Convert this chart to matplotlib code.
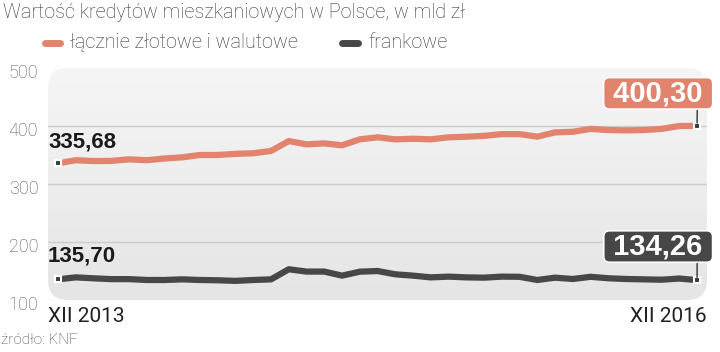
import numpy as np
import matplotlib.pyplot as plt
from matplotlib.patches import FancyBboxPatch
from matplotlib.lines import Line2D
from matplotlib.colors import LinearSegmentedColormap
from matplotlib.transforms import ScaledTranslation

# monthly values, XII 2013 .. XII 2016
total = [335.68, 341, 339.5, 339.8, 342.5, 341, 344, 346, 350, 350, 352, 353, 357,
         374, 368.4, 370, 366.7, 377, 380.5, 377, 378, 377, 380.5, 381.5,
         383, 386, 386, 381.6, 389, 390, 395, 393, 392.5, 393, 395, 400, 400.30]
chf = [135.70, 139, 137.4, 136, 136, 134.5, 134.5, 135.6, 134.5, 134, 133, 134.5, 135.6,
       153, 149, 149, 142, 148.8, 150, 144.3, 142, 139, 140.3, 139,
       138.5, 140.3, 140, 134.5, 138.5, 136.2, 140, 137.5, 136.2, 135.6, 135, 137, 134.26]
series_names = ['łącznie złotowe i walutowe', 'frankowe']
x_labels = ['XII 2013', 'XII 2016']
y_ticks = [100, 200, 300, 400, 500]

ORANGE = '#e2836d'
DARK = '#474747'
TXT = ['Roboto', 'DejaVu Sans']
NUM = ['Liberation Sans', 'DejaVu Sans']


def fmt(v):
    return f'{v:.2f}'.replace('.', ',')


fig = plt.figure(figsize=(7.2, 3.52), dpi=100)
ax = fig.add_axes([48 / 720, 1 - 300 / 352, 659 / 720, 232 / 352])
ax.set_xlim(-0.563, 36.56)
ax.set_ylim(100, 500)
for s in ax.spines.values():
    s.set_visible(False)

# rounded background with a soft vertical gradient
bg = FancyBboxPatch((0, 0), 1, 1, boxstyle='round,pad=0,rounding_size=0.03',
                    transform=ax.transAxes, facecolor='none', edgecolor='none',
                    mutation_aspect=659 / 232)
ax.add_patch(bg)
grad = np.linspace(0, 1, 100).reshape(-1, 1)
cmap = LinearSegmentedColormap.from_list('g', ['#f5f5f5', '#e5e5e5'])
im = ax.imshow(grad, extent=[0, 1, 0, 1], transform=ax.transAxes, aspect='auto',
               cmap=cmap, origin='upper', zorder=0)
im.set_clip_path(bg)

for v in [200, 300, 400]:
    ax.axhline(v, color='#cccccc', lw=1, zorder=1)

x = np.arange(len(total))
ax.plot(x, total, color=ORANGE, lw=4.5, solid_joinstyle='round', zorder=3)
ax.plot(x, chf, color=DARK, lw=4.5, solid_joinstyle='round', zorder=3)

for ex, ey in [(0, total[0]), (0, chf[0]), (36, total[-1]), (36, chf[-1])]:
    ax.plot(ex, ey, marker='s', ms=5, mfc='#3a3a3a', mec='white', mew=1.5, zorder=5)

# start labels: left edge of the plot box, a bit above the first point
for val, dy in [(total[0], 16.3), (chf[0], 17.3)]:
    tr = ax.get_yaxis_transform() + ScaledTranslation(0, dy / 100, fig.dpi_scale_trans)
    ax.text(0, val, fmt(val), transform=tr, ha='left', va='baseline',
            fontsize=16, fontweight='bold', family=NUM, color='#1a1a1a', zorder=6)

# end boxes
for val, col, dy in [(total[-1], ORANGE, 23.4), (chf[-1], DARK, 24.2)]:
    ax.annotate(' ' + fmt(val) + ' ', (36, val), xytext=(-28, dy),
                textcoords='offset points', ha='center', va='center',
                fontsize=21, fontweight='bold', family=NUM, color='white',
                bbox=dict(boxstyle='round,pad=0.06,rounding_size=0.2', fc=col,
                          ec='white', lw=1.2),
                arrowprops=dict(arrowstyle='-', color='#333333', lw=1,
                                relpos=(0.87, 0), shrinkA=0, shrinkB=2),
                zorder=6)

ax.set_xticks([])
ax.set_yticks(y_ticks)
ax.set_yticklabels([str(v) for v in y_ticks], fontsize=13, color='#555555',
                   family=TXT, fontweight='light')
ax.tick_params(axis='y', length=0, pad=7)
off = ScaledTranslation(0, -3 / 100, fig.dpi_scale_trans)
for lab in ax.get_yticklabels():
    lab.set_transform(lab.get_transform() + off)

ax.text(0, -0.03, x_labels[0], transform=ax.transAxes, ha='left', va='top',
        fontsize=15, color='#222222', family=TXT)
ax.text(1, -0.03, x_labels[1], transform=ax.transAxes, ha='right', va='top',
        fontsize=15, color='#222222', family=TXT)

# title, legend, source
fig.text(3 / 720, 1 - 13 / 352, 'Wartość kredytów mieszkaniowych w Polsce, w mld zł',
         ha='left', va='center', fontsize=14.2, color='#333333', family=TXT,
         fontweight='light')
for (x0, x1, tx), col, name in zip([(45, 60, 70), (342, 358, 368)], [ORANGE, DARK], series_names):
    yy = 1 - 43 / 352
    fig.add_artist(Line2D([x0 / 720, x1 / 720], [yy, yy], color=col, lw=5,
                          solid_capstyle='round', transform=fig.transFigure))
    fig.text(tx / 720, yy, name, ha='left', va='center', fontsize=14.2,
             color='#333333', family=TXT, fontweight='light')
fig.text(1 / 720, 1 - 340 / 352, 'źródło: KNF', ha='left', va='center',
         fontsize=11, color='#444444', family=TXT, fontweight='light')

fig.savefig('out.png', dpi=100)
